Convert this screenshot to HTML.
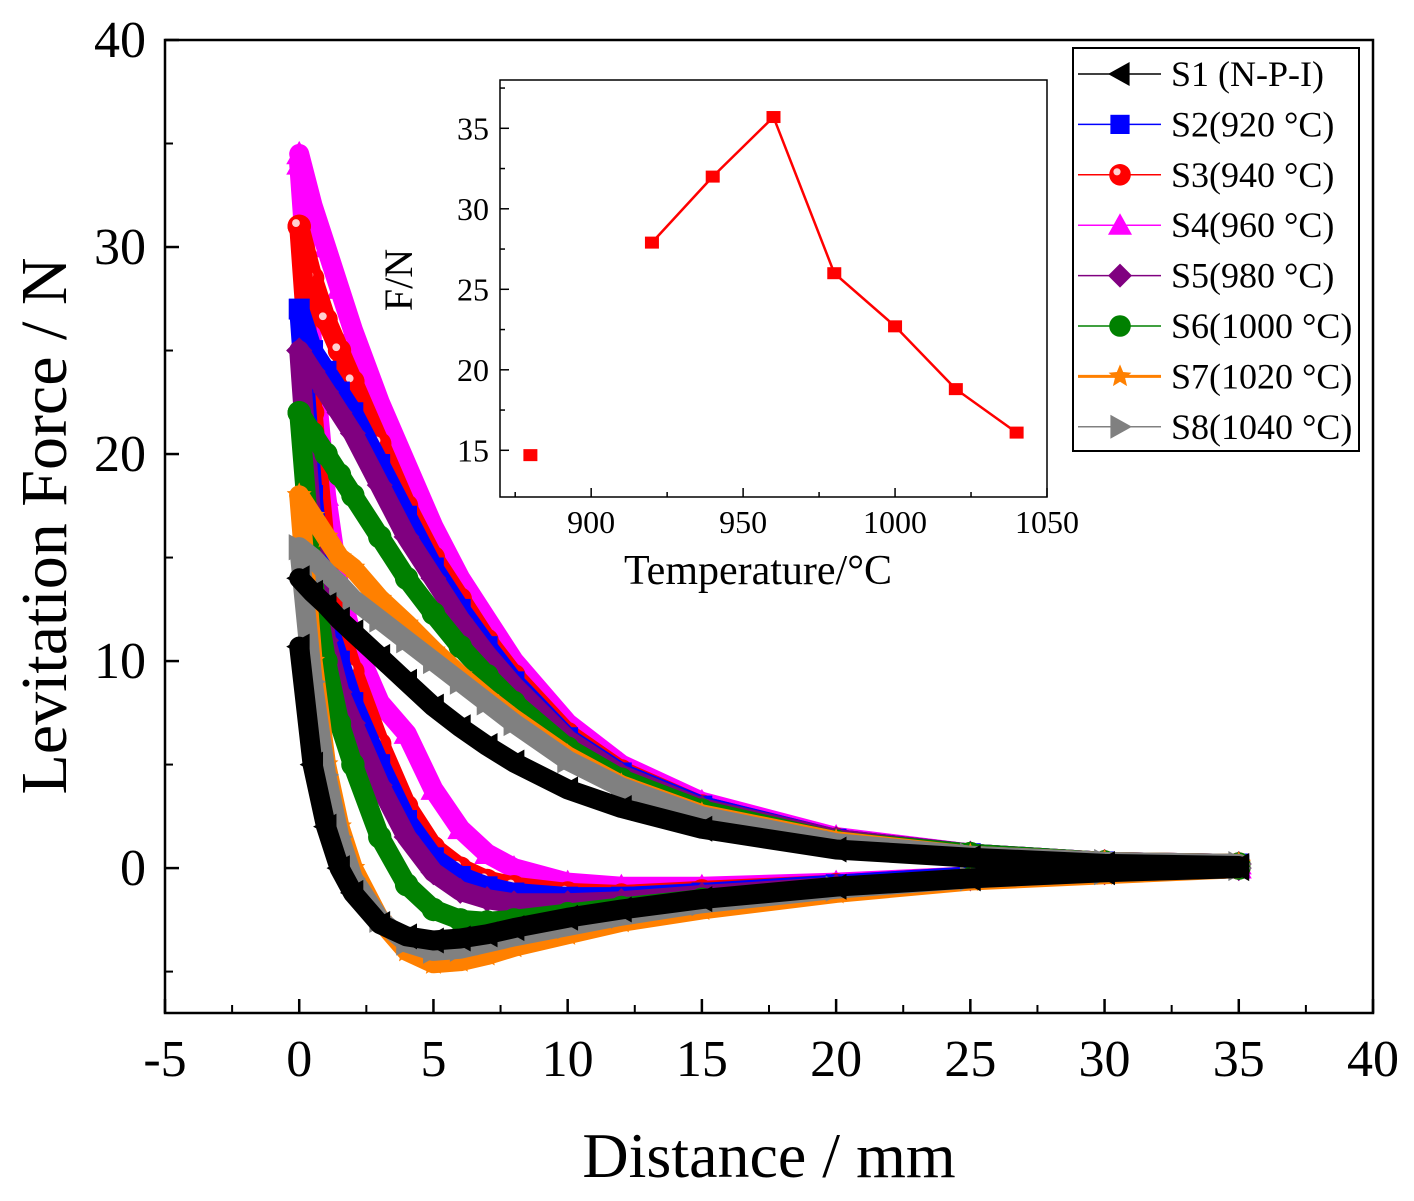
<!DOCTYPE html>
<html><head><meta charset="utf-8">
<style>
html,body{margin:0;padding:0;background:#fff;}
svg{display:block;font-family:"Liberation Serif",serif;}
</style></head>
<body>
<svg id="chart" width="1414" height="1201" viewBox="0 0 1414 1201" xmlns="http://www.w3.org/2000/svg">
<rect width="1414" height="1201" fill="#fff"/>
<g id="main"></g>
<g id="inset"></g>
<g id="legend"></g>
</svg>
<script>
// ===== Main chart data =====
const distances = [0,0.5,1,1.5,2,3,4,5,6,7,8,10,12,15,20,25,30,35];
const seriesNames = ["S1 (N-P-I)","S2(920 °C)","S3(940 °C)","S4(960 °C)","S5(980 °C)","S6(1000 °C)","S7(1020 °C)","S8(1040 °C)"];
const upperS1 = [14,13.3,12.7,12,11.4,10.2,9,7.8,6.8,5.9,5.1,3.8,2.9,1.9,0.9,0.5,0.2,0.1];
const upperS2 = [27,25,24,23,22,19.5,17,14.5,12.5,10.7,9,6.3,4.6,3,1.4,0.7,0.3,0.2];
const upperS3 = [31,28.5,26.5,25,23.5,20.5,17.5,15,13,11,9.3,6.5,4.7,3,1.4,0.7,0.3,0.2];
const upperS4 = [34.5,32,30,28,26,22.5,19.5,16.5,14,12,10,7,5,3.2,1.5,0.7,0.3,0.2];
const upperS5 = [25,24,23,22,21,18.5,16,14,12,10.3,8.8,6.2,4.5,2.9,1.4,0.7,0.3,0.2];
const upperS6 = [22,21,20,19,18,16,14,12.3,10.7,9.3,8,5.8,4.3,2.8,1.3,0.7,0.3,0.2];
const upperS7 = [18,17,16,15,14.5,13,11.8,10.5,9.3,8.2,7.2,5.4,4,2.6,1.3,0.6,0.3,0.2];
const upperS8 = [15.5,15,14.3,13.7,13,12,11,10,9,8,7,5.2,3.9,2.5,1.2,0.6,0.3,0.2];
const lowerS1 = [10.7,5,2,0,-1.2,-2.7,-3.3,-3.5,-3.4,-3.2,-2.9,-2.4,-2,-1.5,-0.9,-0.5,-0.2,0];
const lowerS2 = [27,18,12,10,8,5,2.3,0.5,-0.4,-0.9,-1.2,-1.4,-1.4,-1.2,-0.8,-0.4,-0.2,0];
const lowerS3 = [31,22,15,11.5,9.5,6,3,1,0,-0.6,-0.9,-1.2,-1.3,-1.1,-0.8,-0.4,-0.2,0];
const lowerS4 = [34,25,18,13.5,11,8,6.5,3.8,1.9,0.7,0,-0.7,-0.9,-0.9,-0.7,-0.4,-0.2,0];
const lowerS5 = [25,16,11,8.5,7,4,1.5,-0.2,-1.1,-1.5,-1.7,-1.7,-1.6,-1.3,-0.9,-0.5,-0.2,0];
const lowerS6 = [22,14,10,7,5,1.5,-0.8,-2,-2.5,-2.6,-2.5,-2.2,-1.9,-1.5,-1,-0.5,-0.2,0];
const lowerS7 = [18,10,5,2,0,-2.5,-4,-4.6,-4.5,-4.2,-3.8,-3.2,-2.6,-2,-1.2,-0.6,-0.3,0];
const lowerS8 = [15.5,9,4.5,1.5,-0.5,-2.5,-3.6,-4,-3.9,-3.6,-3.3,-2.8,-2.3,-1.7,-1,-0.5,-0.2,0];
const xTicks = [-5,0,5,10,15,20,25,30,35,40];
const yTicks = [0,10,20,30,40];
// ===== Inset data =====
const insetTemps = [880,920,940,960,980,1000,1020,1040];
const insetForce = [14.7,27.9,32,35.7,26,22.7,18.8,16.1];
const insetXTicks = [900,950,1000,1050];
const insetYTicks = [15,20,25,30,35];

const NS="http://www.w3.org/2000/svg";
function el(tag,attrs,parent,txt){const e=document.createElementNS(NS,tag);for(const k in attrs)e.setAttribute(k,attrs[k]);if(txt!==undefined)e.textContent=txt;parent.appendChild(e);return e;}

const X0=165,X1=1373,Y0=40,Y1=1013;
const xMin=-5,xMax=40,yMin=-7,yMax=40;
const xs=v=>X0+(v-xMin)/(xMax-xMin)*(X1-X0);
const ys=v=>Y1-(v-yMin)/(yMax-yMin)*(Y1-Y0);
const main=document.getElementById('main');

const colors=["#000000","#0000ff","#ff0000","#ff00ff","#800080","#008000","#ff8000","#808080"];
const shapes=["left","square","circle","up","diamond","hex","star","right"];
const uppers=[upperS1,upperS2,upperS3,upperS4,upperS5,upperS6,upperS7,upperS8];
const lowers=[lowerS1,lowerS2,lowerS3,lowerS4,lowerS5,lowerS6,lowerS7,lowerS8];

function marker(parent,shape,cx,cy,r,color){
  let e;
  if(shape==="square") e=el('rect',{x:cx-r*0.8,y:cy-r*0.8,width:r*1.6,height:r*1.6,fill:color},parent);
  else if(shape==="circle"){e=el('circle',{cx:cx,cy:cy,r:r*0.9,fill:color},parent);el('circle',{cx:cx-r*0.25,cy:cy-r*0.25,r:r*0.3,fill:"#ffd0d0"},parent);}
  else if(shape==="hex") e=el('circle',{cx:cx,cy:cy,r:r*0.9,fill:color},parent);
  else {
    let pts;
    if(shape==="left") pts=[[cx-r,cy],[cx+r*0.8,cy-r],[cx+r*0.8,cy+r]];
    else if(shape==="right") pts=[[cx+r,cy],[cx-r*0.8,cy-r],[cx-r*0.8,cy+r]];
    else if(shape==="up") pts=[[cx,cy-r],[cx-r,cy+r*0.8],[cx+r,cy+r*0.8]];
    else if(shape==="diamond") pts=[[cx,cy-r],[cx+r,cy],[cx,cy+r],[cx-r,cy]];
    else { pts=[]; for(let i=0;i<10;i++){const a=-Math.PI/2+i*Math.PI/5;const rr=i%2?r*0.45:r;pts.push([cx+rr*Math.cos(a),cy+rr*Math.sin(a)]);} }
    e=el('polygon',{points:pts.map(p=>p.join(',')).join(' '),fill:color},parent);
  }
  return e;
}

const frame=el('rect',{x:X0,y:Y0,width:X1-X0,height:Y1-Y0,fill:"none",stroke:"#000","stroke-width":2.5},main);



const order=[3,2,1,4,5,6,7,0];
order.forEach(i=>{
  const g=el('g',{},main);
  
  
  [uppers[i],lowers[i]].forEach((arr,bi)=>{
    const d=arr.map((v,k)=>(k?'L':'M')+xs(distances[k]).toFixed(1)+','+ys(v).toFixed(1)).join(' ');
    const p=el('path',{d:d,fill:"none",stroke:colors[i],"stroke-width":20,"stroke-linejoin":"round","stroke-linecap":"round"},g);
    
    
    arr.forEach((v,k)=>{
      const m=marker(g,shapes[i],xs(distances[k]),ys(v),13,colors[i]);
      
      
    });
  });
});

xTicks.forEach(t=>{
  const x=xs(t);
  const tk=el('line',{x1:x,y1:Y1,x2:x,y2:Y1-14,stroke:"#000","stroke-width":2.5},main);
  
  
  if(t<xMax){const mn=el('line',{x1:xs(t+2.5),y1:Y1,x2:xs(t+2.5),y2:Y1-8,stroke:"#000","stroke-width":2},main);
  
  }
  const lb=el('text',{x:x,y:1076,"font-size":52,"text-anchor":"middle"},main,String(t));
  
  
});
yTicks.forEach(t=>{
  const y=ys(t);
  const tk=el('line',{x1:X0,y1:y,x2:X0+14,y2:y,stroke:"#000","stroke-width":2.5},main);
  
  
  const lb=el('text',{x:146,y:y+17,"font-size":52,"text-anchor":"end"},main,String(t));
  
  
});
[-5,5,15,25,35].forEach(t=>{
  const mn=el('line',{x1:X0,y1:ys(t),x2:X0+8,y2:ys(t),stroke:"#000","stroke-width":2},main);
  
  
});
const xt=el('text',{x:769,y:1177,"font-size":64,"text-anchor":"middle"},main,"Distance / mm");


const yt=el('text',{x:0,y:0,"font-size":66,"text-anchor":"middle",transform:"translate(66,526) rotate(-90)"},main,"Levitation Force / N");



// ===== inset =====
const inset=document.getElementById('inset');
const IX0=500,IX1=1047,IY0=80,IY1=497;
const ixMin=870,ixMax=1050,iyMin=12.1,iyMax=38;
const ixs=v=>IX0+(v-ixMin)/(ixMax-ixMin)*(IX1-IX0);
const iys=v=>IY1-(v-iyMin)/(iyMax-iyMin)*(IY1-IY0);
const ibg=el('rect',{x:IX0,y:IY0,width:IX1-IX0,height:IY1-IY0,fill:"#fff",stroke:"#000","stroke-width":1.5},inset);


insetXTicks.forEach(t=>{
  const x=ixs(t);
  const tk=el('line',{x1:x,y1:IY1,x2:x,y2:IY1-9,stroke:"#000","stroke-width":1.5},inset);
  
  
  const mn=el('line',{x1:ixs(t-25),y1:IY1,x2:ixs(t-25),y2:IY1-5,stroke:"#000","stroke-width":1.5},inset);
  
  
  const lb=el('text',{x:x,y:533,"font-size":32,"text-anchor":"middle"},inset,String(t));
  
  
});
insetYTicks.forEach(t=>{
  const y=iys(t);
  const tk=el('line',{x1:IX0,y1:y,x2:IX0+9,y2:y,stroke:"#000","stroke-width":1.5},inset);
  
  
  const mn=el('line',{x1:IX0,y1:iys(t+2.5),x2:IX0+5,y2:iys(t+2.5),stroke:"#000","stroke-width":1.5},inset);
  
  
  const lb=el('text',{x:489,y:y+11,"font-size":32,"text-anchor":"end"},inset,String(t));
  
  
});
const ipath=insetTemps.slice(1).map((t,k)=>(k?'L':'M')+ixs(t).toFixed(1)+','+iys(insetForce[k+1]).toFixed(1)).join(' ');
const il=el('path',{d:ipath,fill:"none",stroke:"#ff0000","stroke-width":2.5},inset);


insetTemps.forEach((t,k)=>{
  const p=el('rect',{x:ixs(t)-7,y:iys(insetForce[k])-6,width:14,height:12,fill:"#ff0000"},inset);
  
  
});
const ixt=el('text',{x:758,y:584,"font-size":42,"text-anchor":"middle"},inset,"Temperature/°C");


const iyt=el('text',{x:0,y:0,"font-size":40,"text-anchor":"middle",transform:"translate(412,280) rotate(-90)"},inset,"F/N");



// ===== legend =====
const legend=document.getElementById('legend');
const lbox=el('rect',{x:1073,y:48,width:286,height:403,fill:"#fff",stroke:"#000","stroke-width":2},legend);


seriesNames.forEach((n,i)=>{
  const y=74+i*50.4;
  const g=el('g',{},legend);
  
  
  el('line',{x1:1078,y1:y,x2:1161,y2:y,stroke:colors[i],"stroke-width":i===6?3:1.5},g);
  marker(g,shapes[i],1120,y,12,colors[i]);
  el('text',{x:1171,y:y+12,"font-size":36},g,n);
});
</script>
</body></html>
